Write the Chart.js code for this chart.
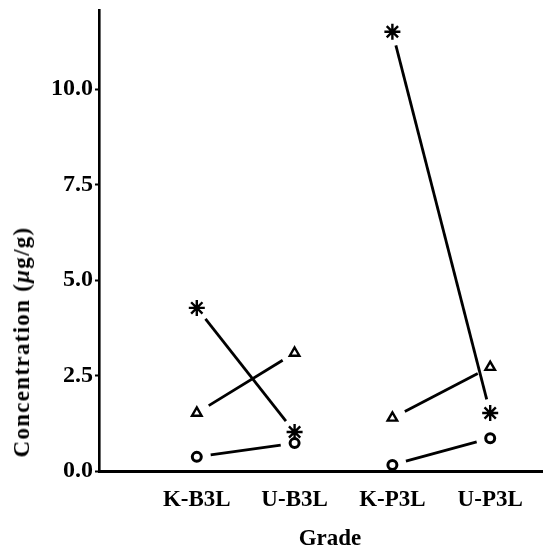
<!DOCTYPE html>
<html>
<head>
<meta charset="utf-8">
<script src="https://cdn.jsdelivr.net/npm/chart.js@4"></script>
<style>
  html, body { margin: 0; padding: 0; background: #fff; }
  #wrap { position: relative; width: 543px; height: 551px; }
  #c { position: absolute; left: 0; top: 0; }
  .ttl { position: absolute; font-family: "Liberation Serif", serif; color: #000; white-space: nowrap; }
  #ytitle { left: 22px; top: 342px; font-size: 23px; font-weight: bold; letter-spacing: 1.3px; transform: translate(-50%, -50%) rotate(-90deg); }
  #xtitle { left: 330px; top: 538px; font-size: 23px; font-weight: bold; transform: translate(-50%, -50%); }
</style>
</head>
<body>
<div id="wrap">
  <canvas id="c" width="543" height="551"></canvas>
  <div class="ttl" id="ytitle">Concentration (<i>μ</i>g/g)</div>
  <div class="ttl" id="xtitle">Grade</div>
</div>
<script>
// grades along the x axis
const categories = ['K-B3L', 'U-B3L', 'K-P3L', 'U-P3L'];
// concentrations (µg/g) per grade, one array per marker type
const starValues = [4.27, 1.02, 11.5, 1.52];
const triangleValues = [1.52, 3.09, 1.39, 2.72];
const circleValues = [0.37, 0.73, 0.16, 0.86];
// y axis tick values
const yTicks = [0, 2.5, 5, 7.5, 10];

const toPoints = vals => vals.map((v, i) => ({ x: i, y: v }));

// K -> U lines inside each pair, stopped short of the markers
const pairLines = {
  id: 'pairLines',
  afterDatasetsDraw(chart) {
    const ctx = chart.ctx;
    ctx.save();
    ctx.strokeStyle = '#000';
    ctx.lineWidth = 2.8;
    chart.data.datasets.forEach((ds, i) => {
      const pts = chart.getDatasetMeta(i).data;
      for (let k = 0; k + 1 < pts.length; k += 2) {
        const a = pts[k], b = pts[k + 1];
        const dx = b.x - a.x, dy = b.y - a.y;
        const len = Math.hypot(dx, dy);
        const g = 14;
        ctx.beginPath();
        ctx.moveTo(a.x + dx * g / len, a.y + dy * g / len);
        ctx.lineTo(b.x - dx * g / len, b.y - dy * g / len);
        ctx.stroke();
      }
    });
    ctx.restore();
  }
};

const markerBase = { showLine: false, borderColor: '#000', backgroundColor: '#fff' };

new Chart(document.getElementById('c'), {
  type: 'scatter',
  data: {
    datasets: [
      { ...markerBase, label: 'star', data: toPoints(starValues), pointStyle: 'star', pointRadius: 8, borderWidth: 2.4 },
      { ...markerBase, label: 'triangle', data: toPoints(triangleValues), pointStyle: 'triangle', pointRadius: 5.5, borderWidth: 2.4 },
      { ...markerBase, label: 'circle', data: toPoints(circleValues), pointStyle: 'circle', pointRadius: 4.5, borderWidth: 3 }
    ]
  },
  options: {
    responsive: false,
    animation: false,
    events: [],
    layout: { autoPadding: false, padding: { top: 10, right: 0, left: 0, bottom: 0 } },
    plugins: { legend: { display: false }, tooltip: { enabled: false } },
    scales: {
      x: {
        type: 'linear',
        min: -1,
        max: 3.54,
        afterBuildTicks: s => { s.ticks = categories.map((c, i) => ({ value: i })); },
        afterFit: s => { s.height = 80; s.paddingLeft = 0; s.paddingRight = 0; },
        grid: { display: false, drawTicks: false },
        border: { display: true, color: '#000', width: 3 },
        ticks: {
          color: '#000',
          padding: 15,
          autoSkip: false,
          maxRotation: 0,
          font: { family: 'Liberation Serif', size: 23, weight: 'bold' },
          callback: v => categories[v] ?? ''
        }
      },
      y: {
        min: 0,
        max: 12.07,
        afterBuildTicks: s => { s.ticks = yTicks.map(v => ({ value: v })); },
        afterFit: s => { s.width = 99; s.paddingTop = 0; s.paddingBottom = 0; },
        grid: { drawOnChartArea: false, drawTicks: true, tickLength: 4, color: '#000', tickWidth: 2 },
        border: { display: true, color: '#000', width: 2.6 },
        ticks: {
          color: '#000',
          padding: 2,
          font: { family: 'Liberation Serif', size: 24, weight: 'bold' },
          callback: v => v.toFixed(1)
        }
      }
    }
  },
  plugins: [pairLines]
});
</script>
</body>
</html>
